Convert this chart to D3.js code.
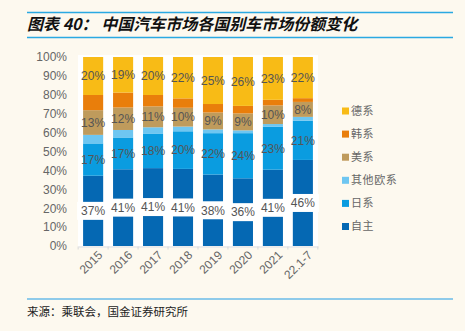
<!DOCTYPE html>
<html><head><meta charset="utf-8">
<script src="https://cdn.jsdelivr.net/npm/d3@7"></script>
<style>
html,body{margin:0;padding:0;background:#fdf9ef;}
svg{display:block;}
</style></head>
<body>
<svg id="c" width="465" height="331"></svg>
<script>
const categories = ["2015","2016","2017","2018","2019","2020","2021","22.1-7"];
const seriesNames = ["自主","日系","其他欧系","美系","韩系","德系"];
const ziZhu   = [37,41,41,41,38,36,41,46];
const riXi    = [17,17,18,20,22,24,23,21];
const qiTaOu  = [4.5,4,3.5,2.5,2,1.5,1.5,2];
const meiXi   = [13,12,11,10,9,9,10,8];
const hanXi   = [8,8,6,5,4.5,4,3,2];
const deXi    = [20,19,20,22,25,26,23,22];
const labeled = ["自主","日系","美系","德系"];
const yTicks = [0,0.1,0.2,0.3,0.4,0.5,0.6,0.7,0.8,0.9,1.0];
const colors = ["#0568b3","#0a9ce0","#6ec6f1","#bf9b5c","#e97e0b","#f8bb16"];

const seriesValues = [ziZhu, riXi, qiTaOu, meiXi, hanXi, deXi];
const rows = categories.map((c,i)=>{
  const r = {cat:c};
  seriesNames.forEach((s,k)=> r[s] = seriesValues[k][i]);
  return r;
});

const svg = d3.select("#c");

// title & decoration lines
svg.append("line").attr("x1",27).attr("x2",453).attr("y1",12.5).attr("y2",12.5)
  .attr("stroke","#2aa9e2").attr("stroke-width",1.3);
svg.append("line").attr("x1",27).attr("x2",453).attr("y1",37.5).attr("y2",37.5)
  .attr("stroke","#2aa9e2").attr("stroke-width",1.3);
svg.append("text").attr("x",27).attr("y",30)
  .attr("font-family","'Noto Sans CJK SC', sans-serif").attr("font-size",16)
  .attr("font-weight","bold").attr("font-style","italic").attr("fill","#111")
  .text("图表 40： 中国汽车市场各国别车市场份额变化");
svg.append("line").attr("x1",27).attr("x2",453).attr("y1",299).attr("y2",299)
  .attr("stroke","#8fcbea").attr("stroke-width",2);
svg.append("text").attr("x",27).attr("y",316)
  .attr("font-family","'Noto Sans CJK SC', serif").attr("font-size",11.5).attr("fill","#222")
  .text("来源：乘联会，国金证券研究所");

// plot background
svg.append("rect").attr("x",78).attr("y",55).attr("width",240).attr("height",193).attr("fill","#fff");

const x = d3.scaleBand().domain(categories).range([78,318]).paddingInner(0.33).paddingOuter(0.17);
const y = d3.scaleLinear().domain([0,1]).range([246,57]);

const stack = d3.stack().keys(seriesNames).offset(d3.stackOffsetExpand);
const stacked = stack(rows);

const g = svg.append("g");
stacked.forEach((layer,k)=>{
  g.append("g").attr("fill",colors[k]).selectAll("rect").data(layer).join("rect")
    .attr("x",d=>x(d.data.cat)).attr("width",x.bandwidth())
    .attr("y",d=>y(d[1])).attr("height",d=>y(d[0])-y(d[1]));
});

// y axis
const yAxis = d3.axisLeft(y).tickValues(yTicks).tickFormat(d3.format(".0%")).tickSize(0).tickPadding(11);
const ya = svg.append("g").attr("transform","translate(78,0)").call(yAxis);
ya.select(".domain").remove();
ya.selectAll("text").attr("font-family","'Liberation Sans', Arial, sans-serif").attr("font-size",12).attr("fill","#666");

// x axis
const xa = svg.append("g").attr("transform","translate(0,246.5)")
  .call(d3.axisBottom(x).tickSize(0).tickPadding(6));
xa.select(".domain").attr("stroke","#d9d9d9");
xa.selectAll("text").attr("font-family","'Liberation Sans', Arial, sans-serif").attr("font-size",12).attr("fill","#666")
  .attr("text-anchor","end").attr("dy","0.35em")
  .attr("transform","translate(3,2) rotate(-45)");
// small tick separators
const seps = categories.map(c=> x(c) - x.step()*x.paddingInner()/2);
seps.push(x(categories[categories.length-1]) + x.bandwidth() + x.step()*x.paddingInner()/2);
svg.append("g").selectAll("line").data(seps).join("line")
  .attr("x1",d=>d).attr("x2",d=>d).attr("y1",246.5).attr("y2",249.5).attr("stroke","#d9d9d9");

// labels
stacked.forEach((layer,k)=>{
  const name = seriesNames[k];
  if(!labeled.includes(name)) return;
  const vals = seriesValues[k];
  layer.forEach((d,i)=>{
    const cx = x(d.data.cat)+x.bandwidth()/2;
    const cy = (y(d[0])+y(d[1]))/2;
    const t = vals[i] + "%";
    if(name==="自主"){
      g.append("rect").attr("x",cx-16).attr("y",cy-9).attr("width",32).attr("height",18).attr("fill","#fff");
    }
    g.append("text").attr("x",cx).attr("y",cy).attr("dy","0.36em").attr("text-anchor","middle")
      .attr("font-family","'Liberation Sans', Arial, sans-serif").attr("font-size",12).attr("fill","#555")
      .text(t);
  });
});

// legend
const legOrder = [5,4,3,2,1,0];
const lg = svg.append("g");
legOrder.forEach((k,j)=>{
  const yy = 111 + j*23.1;
  lg.append("rect").attr("x",342).attr("y",yy-3.5).attr("width",7).attr("height",7).attr("fill",colors[k]);
  lg.append("text").attr("x",351).attr("y",yy).attr("dy","0.35em")
    .attr("font-family","'Noto Sans CJK SC', sans-serif").attr("font-size",11).attr("letter-spacing",0.6)
    .attr("fill","#666").text(seriesNames[k]);
});
</script>
</body></html>
